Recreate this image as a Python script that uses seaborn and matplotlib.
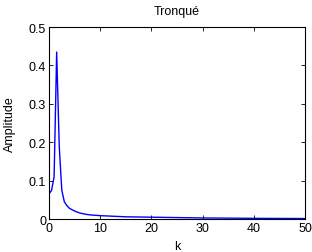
import matplotlib as mpl
mpl.use('Agg')

import matplotlib.pyplot as plt
import pandas as pd
import seaborn as sns

# values
k_vals = [0, 0.5, 1.0, 1.5, 2.0, 2.5, 3.0, 3.5, 4, 5, 6, 7, 8, 10, 15, 20, 30, 40, 50]
amplitude = [0.065, 0.075, 0.11, 0.435, 0.19, 0.075, 0.045, 0.035, 0.028,
             0.021, 0.016, 0.013, 0.011, 0.009, 0.006, 0.005, 0.003, 0.002, 0.0015]
x_ticks = [0, 10, 20, 30, 40, 50]
y_ticks = [0, 0.1, 0.2, 0.3, 0.4, 0.5]
y_tick_labels = ['0', '0.1', '0.2', '0.3', '0.4', '0.5']


def main():
    sns.set_style('ticks')
    plt.rcParams['font.family'] = ['Liberation Sans', 'DejaVu Sans']
    plt.rcParams['xtick.direction'] = 'in'
    plt.rcParams['ytick.direction'] = 'in'
    plt.rcParams['text.color'] = 'black'
    plt.rcParams['axes.labelcolor'] = 'black'
    plt.rcParams['xtick.color'] = 'black'
    plt.rcParams['ytick.color'] = 'black'

    df = pd.DataFrame({'k': k_vals, 'Amplitude': amplitude})

    fig = plt.figure(figsize=(3.12, 2.53), dpi=100)
    ax = fig.add_axes([0.157, 0.130, 0.821, 0.759])

    sns.lineplot(data=df, x='k', y='Amplitude', color='#0000ff', linewidth=1.0, ax=ax)

    ax.set_xlim(0, 50)
    ax.set_ylim(0, 0.5)
    ax.set_xticks(x_ticks)
    ax.set_yticks(y_ticks)
    ax.set_yticklabels(y_tick_labels)
    ax.tick_params(axis='both', labelsize=9, length=3, width=0.6,
                   top=True, right=True, pad=2)
    for sp in ax.spines.values():
        sp.set_visible(True)
        sp.set_linewidth(0.8)
        sp.set_color('black')

    ax.set_xlabel('k', fontsize=9)
    ax.xaxis.label.set_va('center')
    ax.xaxis.set_label_coords(0.5, -0.14)
    ax.set_ylabel('Amplitude', fontsize=9)
    ax.yaxis.label.set_va('center')
    ax.yaxis.set_label_coords(-0.152, 0.5)
    ax.set_title('Tronqué', fontsize=9, y=1.083, pad=0, va='center')

    fig.savefig('out.png', dpi=100)


if __name__ == '__main__':
    main()
